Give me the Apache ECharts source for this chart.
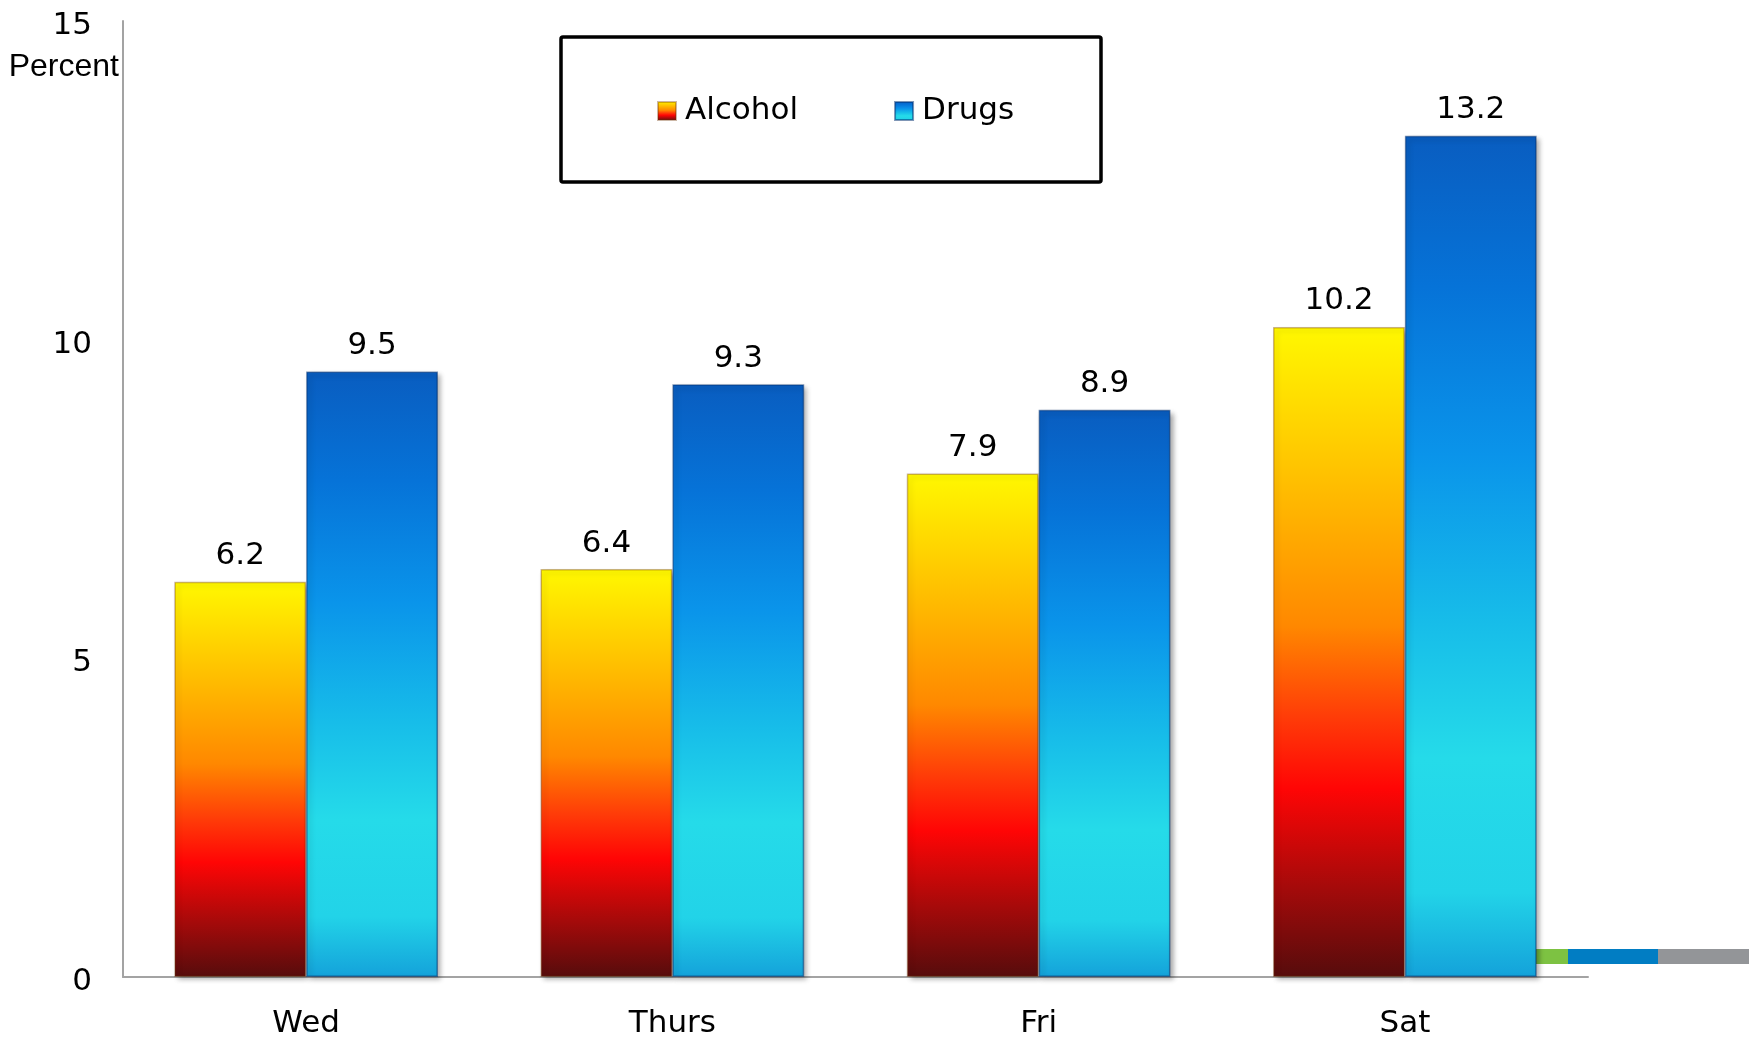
<!DOCTYPE html>
<html>
<head>
<meta charset="utf-8">
<script src="https://cdn.jsdelivr.net/npm/echarts@6/dist/echarts.min.js"></script>
<style>
  html, body { margin: 0; padding: 0; background: #ffffff; }
  #chart { width: 1756px; height: 1039px; }
</style>
</head>
<body>
<div id="chart"></div>
<script>
// Share of cases by day of week (percent)
const days = ['Wed', 'Thurs', 'Fri', 'Sat'];
const alcohol = [6.2, 6.4, 7.9, 10.2];
const drugs = [9.5, 9.3, 8.9, 13.2];
const yTicks = [0, 5, 10, 15];

const FONT = "'DejaVu Sans', Verdana, sans-serif";

const alcoholFill = new echarts.graphic.LinearGradient(0, 0, 0, 1, [
  { offset: 0.00, color: '#fff800' },
  { offset: 0.20, color: '#ffc800' },
  { offset: 0.46, color: '#ff8800' },
  { offset: 0.60, color: '#ff3c08' },
  { offset: 0.71, color: '#ff0505' },
  { offset: 0.86, color: '#a60a0a' },
  { offset: 1.00, color: '#560c0c' }
]);

const drugsFill = new echarts.graphic.LinearGradient(0, 0, 0, 1, [
  { offset: 0.00, color: '#095dc0' },
  { offset: 0.18, color: '#0673d8' },
  { offset: 0.38, color: '#0a94ea' },
  { offset: 0.58, color: '#17bde9' },
  { offset: 0.74, color: '#25dbe9' },
  { offset: 0.90, color: '#22d3e8' },
  { offset: 1.00, color: '#14a2da' }
]);

const barShadow = {
  shadowBlur: 5,
  shadowOffsetX: 3,
  shadowOffsetY: 3,
  shadowColor: 'rgba(0,0,0,0.35)'
};

const labelStyle = {
  show: true,
  position: 'top',
  distance: 10,
  color: '#000',
  fontFamily: FONT,
  fontSize: 31
};

const chart = echarts.init(document.getElementById('chart'), null, { renderer: 'canvas' });

chart.setOption({
  animation: false,
  backgroundColor: '#ffffff',
  grid: { left: 123, right: 168, top: 21, bottom: 58, containLabel: false },
  legend: {
    left: 657,
    top: 94,
    padding: 0,
    itemWidth: 18,
    itemHeight: 18,
    itemGap: 96,
    icon: 'rect',
    textStyle: { fontFamily: FONT, fontSize: 31, color: '#000', lineHeight: 34, padding: [0, 0, 0, 4] },
    data: ['Alcohol', 'Drugs']
  },
  xAxis: {
    type: 'category',
    data: days,
    axisLine: { lineStyle: { color: '#a3a3a3', width: 2 } },
    axisTick: { show: false },
    axisLabel: { color: '#000', fontFamily: FONT, fontSize: 31, margin: 31 }
  },
  yAxis: {
    type: 'value',
    min: yTicks[0],
    max: yTicks[yTicks.length - 1],
    interval: yTicks[1] - yTicks[0],
    axisLine: { show: true, lineStyle: { color: '#a3a3a3', width: 2 } },
    axisTick: { show: false },
    splitLine: { show: false },
    axisLabel: {
      margin: 31,
      formatter: '{v|{value}}',
      rich: {
        v: { color: '#000', fontFamily: FONT, fontSize: 31, lineHeight: 31, padding: [10, 0, 0, 0] }
      }
    }
  },
  graphic: [
    // legend frame
    {
      type: 'rect',
      shape: { x: 561, y: 37, width: 540, height: 145, r: 2 },
      style: { fill: 'none', stroke: '#000', lineWidth: 3.5 },
      z: 10
    },
    // axis unit caption
    {
      type: 'text',
      style: {
        text: 'Percent',
        x: 119, y: 67,
        align: 'right', verticalAlign: 'middle',
        font: "32px 'Liberation Sans', Arial, sans-serif",
        fill: '#000'
      },
      z: 10
    },
    // template colour strip, lower right
    { type: 'rect', shape: { x: 1500, y: 949, width: 68, height: 15 }, style: { fill: '#7dc242' }, z: -1 },
    { type: 'rect', shape: { x: 1568, y: 949, width: 90, height: 15 }, style: { fill: '#017dc3' }, z: -1 },
    { type: 'rect', shape: { x: 1658, y: 949, width: 91, height: 15 }, style: { fill: '#939598' }, z: -1 }
  ],
  series: [
    {
      name: 'Alcohol',
      type: 'bar',
      data: alcohol,
      barGap: '0%',
      barCategoryGap: '28%',
      itemStyle: Object.assign({ color: alcoholFill, borderColor: 'rgba(110,50,0,0.35)', borderWidth: 1.5 }, barShadow),
      label: labelStyle,
      z: 3
    },
    {
      name: 'Drugs',
      type: 'bar',
      data: drugs,
      barGap: '0%',
      barCategoryGap: '28%',
      itemStyle: Object.assign({ color: drugsFill, borderColor: 'rgba(0,45,110,0.5)', borderWidth: 1.5 }, barShadow),
      label: labelStyle,
      z: 3
    }
  ]
});
</script>
</body>
</html>
